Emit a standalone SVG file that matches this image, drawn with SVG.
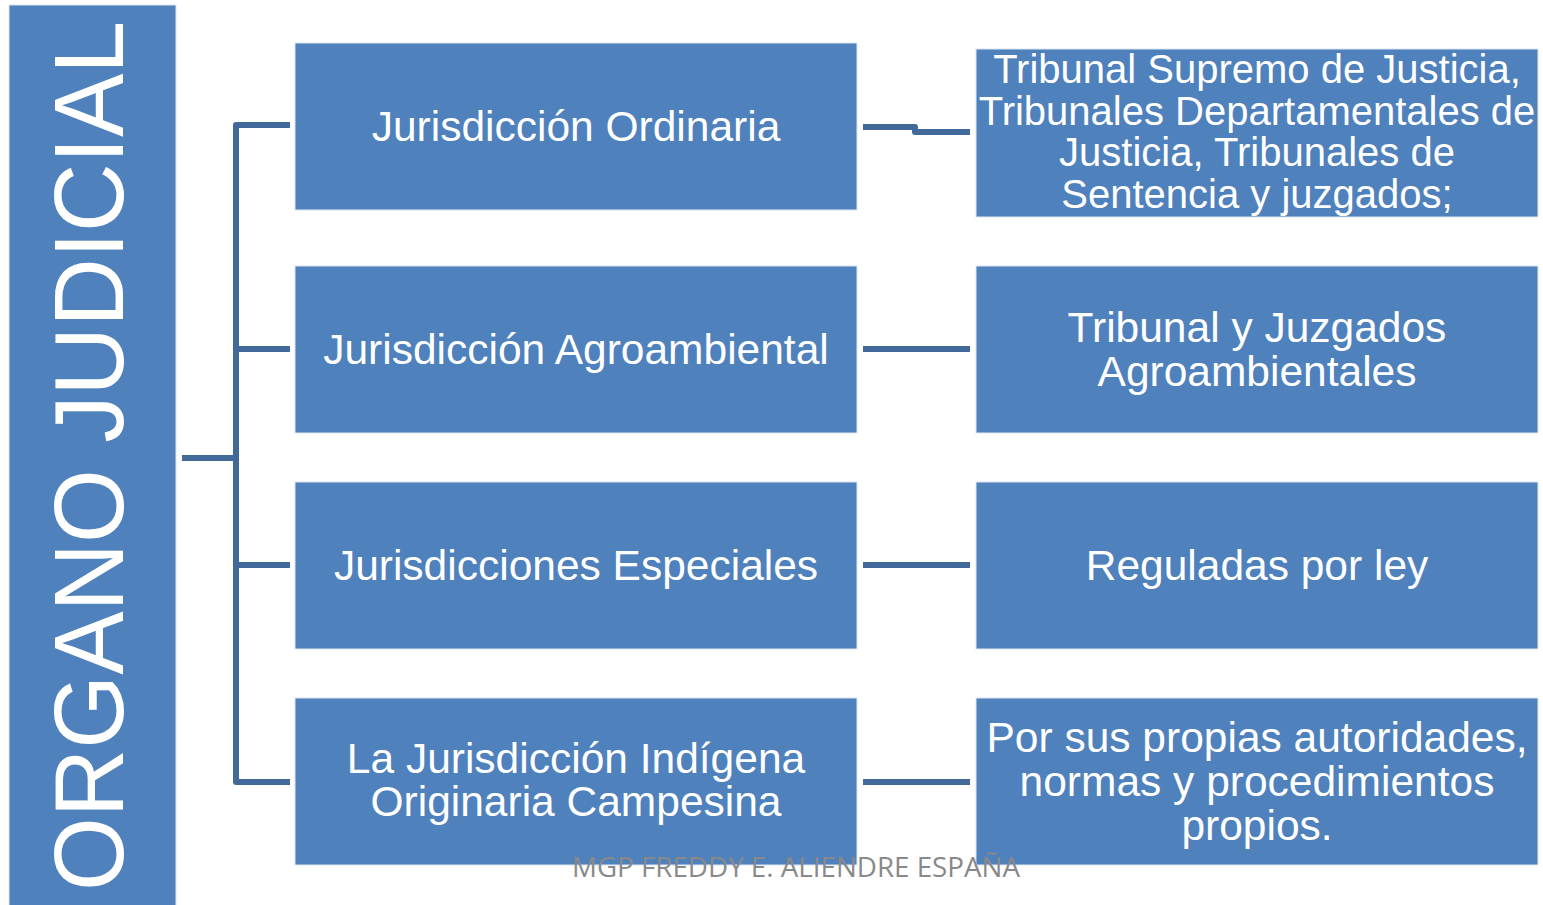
<svg xmlns="http://www.w3.org/2000/svg" width="1543" height="905" viewBox="0 0 1543 905">
<style>
.box{fill:#4F81BD;stroke:#DCE6F2;stroke-width:1}
.t{font-family:"Liberation Sans",Arial,sans-serif;fill:#FFFFFF;text-anchor:middle;font-size:42.5px}
.s{font-size:40px}
.c{fill:none;stroke:#41699A;stroke-width:6;stroke-linejoin:round}
</style>
<rect width="1543" height="905" fill="#FFFFFF"/>
<g id="organo">
<rect class="box" x="9" y="5" width="167" height="905"/>
<text class="t" x="0" y="0" transform="translate(123,456) rotate(-90)" style="font-size:99px" textLength="870" lengthAdjust="spacingAndGlyphs">ORGANO JUDICIAL</text>
</g>
<g id="connectors">
<path class="c" d="M182,458 H236"/>
<path class="c" d="M290,125 H236 V782 H290"/>
<path class="c" d="M236,349 H290 M236,565 H290"/>
<path class="c" d="M863,127 H915 V132 H970"/>
<path class="c" d="M863,349 H970 M863,565 H970 M863,782 H970"/>
</g>
<g id="ordinaria">
<rect class="box" x="295" y="43" width="562" height="167"/>
<text class="t" x="576" y="141">Jurisdicción Ordinaria</text>
</g>
<g id="agroambiental">
<rect class="box" x="295" y="266" width="562" height="167"/>
<text class="t" x="576" y="364">Jurisdicción Agroambiental</text>
</g>
<g id="especiales">
<rect class="box" x="295" y="482" width="562" height="167"/>
<text class="t" x="576" y="580">Jurisdicciones Especiales</text>
</g>
<g id="indigena">
<rect class="box" x="295" y="698" width="562" height="167"/>
<text class="t" x="576" y="773">La Jurisdicción Indígena</text>
<text class="t" x="576" y="816">Originaria Campesina</text>
</g>
<g id="tribunal-supremo">
<rect class="box" x="976" y="49" width="562" height="168"/>
<text class="t s" x="1257" y="83">Tribunal Supremo de Justicia,</text>
<text class="t s" x="1257" y="125">Tribunales Departamentales de</text>
<text class="t s" x="1257" y="166">Justicia, Tribunales de</text>
<text class="t s" x="1257" y="208">Sentencia y juzgados;</text>
</g>
<g id="tribunal-agro">
<rect class="box" x="976" y="266" width="562" height="167"/>
<text class="t" x="1257" y="342">Tribunal y Juzgados</text>
<text class="t" x="1257" y="386">Agroambientales</text>
</g>
<g id="reguladas">
<rect class="box" x="976" y="482" width="562" height="167"/>
<text class="t" x="1257" y="580">Reguladas por ley</text>
</g>
<g id="propias">
<rect class="box" x="976" y="698" width="562" height="167"/>
<text class="t" x="1257" y="752">Por sus propias autoridades,</text>
<text class="t" x="1257" y="796">normas y procedimientos</text>
<text class="t" x="1257" y="840">propios.</text>
</g>
<g id="footer">
<text x="572" y="877" style="font-family:'Open Sans','Liberation Sans',sans-serif;font-size:27px;fill:#898989" textLength="448" lengthAdjust="spacingAndGlyphs">MGP FREDDY E. ALIENDRE ESPAÑA</text>
</g>
</svg>
